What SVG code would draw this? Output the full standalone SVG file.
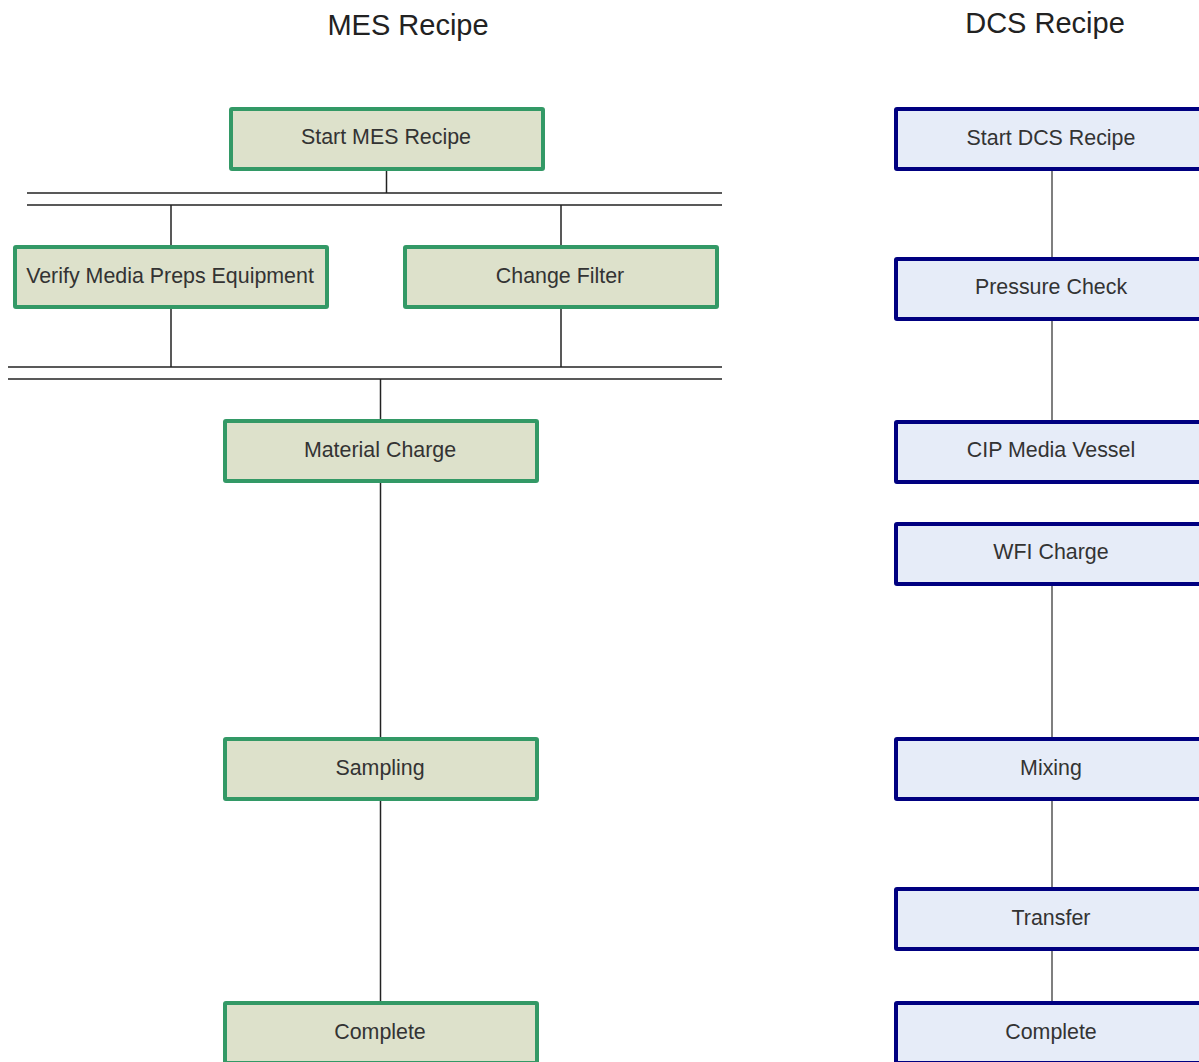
<svg xmlns="http://www.w3.org/2000/svg" width="1199" height="1062" viewBox="0 0 1199 1062">
<style>
.mes{fill:#dde1cb;stroke:#339966;stroke-width:4}
.dcs{fill:#e6ecf8;stroke:#000080;stroke-width:4}
.lbl{font-family:"Liberation Sans",Arial,sans-serif;font-size:21.4px;fill:#333;text-anchor:middle}
.ttl{font-family:"Liberation Sans",Arial,sans-serif;font-size:29px;fill:#222;text-anchor:middle}
.ln{stroke:#222;stroke-width:1.5;fill:none}
.lg{stroke:#555;stroke-width:1.5;fill:none}
</style>
<rect width="1199" height="1062" fill="#fff"/>
<text class="ttl" x="408" y="35">MES Recipe</text>
<text class="ttl" x="1045" y="33">DCS Recipe</text>
<g id="connectors">
<line class="ln" x1="27" y1="193" x2="722" y2="193"/>
<line class="ln" x1="27" y1="205" x2="722" y2="205"/>
<line class="ln" x1="8" y1="367" x2="722" y2="367"/>
<line class="ln" x1="8" y1="379" x2="722" y2="379"/>
<line class="ln" x1="386.5" y1="170" x2="386.5" y2="193"/>
<line class="ln" x1="171" y1="205" x2="171" y2="246"/>
<line class="ln" x1="561" y1="205" x2="561" y2="246"/>
<line class="ln" x1="171" y1="308" x2="171" y2="367"/>
<line class="ln" x1="561" y1="308" x2="561" y2="367"/>
<line class="ln" x1="380.5" y1="379" x2="380.5" y2="420"/>
<line class="ln" x1="380.5" y1="482" x2="380.5" y2="738"/>
<line class="ln" x1="380.5" y1="800" x2="380.5" y2="1002"/>
<line class="lg" x1="1052" y1="170" x2="1052" y2="258"/>
<line class="lg" x1="1052" y1="321" x2="1052" y2="421"/>
<line class="lg" x1="1052" y1="584" x2="1052" y2="738"/>
<line class="lg" x1="1052" y1="800" x2="1052" y2="888"/>
<line class="lg" x1="1052" y1="950" x2="1052" y2="1002"/>
</g>
<g id="start-mes"><rect class="mes" x="231" y="109" width="312" height="60" rx="1"/><text class="lbl" x="386" y="144">Start MES Recipe</text></g>
<g id="verify"><rect class="mes" x="15" y="247" width="312" height="60" rx="1"/><text class="lbl" x="170" y="283">Verify Media Preps Equipment</text></g>
<g id="change-filter"><rect class="mes" x="405" y="247" width="312" height="60" rx="1"/><text class="lbl" x="560" y="283">Change Filter</text></g>
<g id="material-charge"><rect class="mes" x="225" y="421" width="312" height="60" rx="1"/><text class="lbl" x="380" y="457">Material Charge</text></g>
<g id="sampling"><rect class="mes" x="225" y="739" width="312" height="60" rx="1"/><text class="lbl" x="380" y="775">Sampling</text></g>
<g id="complete-mes"><rect class="mes" x="225" y="1003" width="312" height="60" rx="1"/><text class="lbl" x="380" y="1039">Complete</text></g>
<g id="start-dcs"><rect class="dcs" x="896" y="109" width="312" height="60" rx="1"/><text class="lbl" x="1051" y="145">Start DCS Recipe</text></g>
<g id="pressure-check"><rect class="dcs" x="896" y="259" width="312" height="60" rx="1"/><text class="lbl" x="1051" y="294">Pressure Check</text></g>
<g id="cip"><rect class="dcs" x="896" y="422" width="312" height="60" rx="1"/><text class="lbl" x="1051" y="457">CIP Media Vessel</text></g>
<g id="wfi"><rect class="dcs" x="896" y="524" width="312" height="60" rx="1"/><text class="lbl" x="1051" y="559">WFI Charge</text></g>
<g id="mixing"><rect class="dcs" x="896" y="739" width="312" height="60" rx="1"/><text class="lbl" x="1051" y="775">Mixing</text></g>
<g id="transfer"><rect class="dcs" x="896" y="889" width="312" height="60" rx="1"/><text class="lbl" x="1051" y="925">Transfer</text></g>
<g id="complete-dcs"><rect class="dcs" x="896" y="1003" width="312" height="60" rx="1"/><text class="lbl" x="1051" y="1039">Complete</text></g>
</svg>
